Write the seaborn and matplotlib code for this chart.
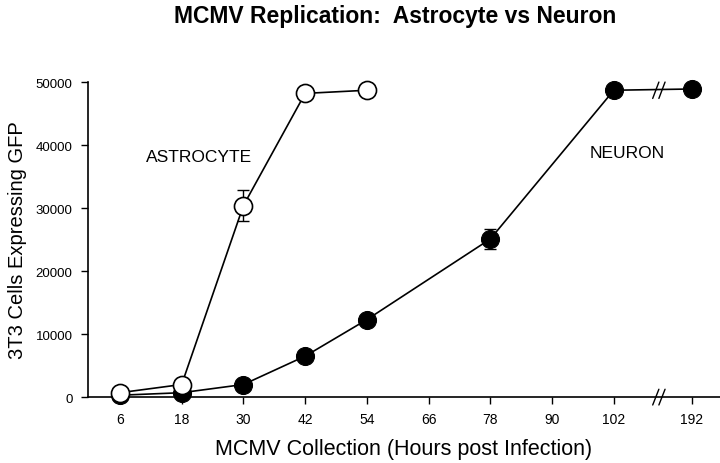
import numpy as np
import pandas as pd
import matplotlib
matplotlib.use('Agg')
import matplotlib.pyplot as plt
import seaborn as sns

# hours post infection (axis is broken between 102 and 192)
hours = [6, 18, 30, 42, 54, 66, 78, 90, 102, 192]

astro_hours = [6, 18, 30, 42, 54]
astro_gfp = [700, 2000, 30400, 48200, 48700]
astro_err = [0, 0, 2500, 0, 0]

neuron_hours = [6, 18, 30, 42, 54, 78, 102, 192]
neuron_gfp = [300, 700, 2000, 6500, 12300, 25100, 48700, 48900]
neuron_err = [0, 0, 0, 0, 0, 1650, 0, 0]

BREAK_GAP = 1.26  # spacing (in tick steps) from 102 to 192


def hpos(h):
    # position on the broken axis
    h = np.asarray(h, dtype=float)
    return np.where(h <= 102, (h - 6) / 12, 8 + BREAK_GAP)


df_a = pd.DataFrame({'pos': hpos(astro_hours), 'gfp': astro_gfp, 'err': astro_err})
df_n = pd.DataFrame({'pos': hpos(neuron_hours), 'gfp': neuron_gfp, 'err': neuron_err})

sns.set_style('ticks')
plt.rcParams['font.family'] = ['Liberation Sans', 'DejaVu Sans']
plt.rcParams['text.color'] = 'black'
plt.rcParams['axes.labelcolor'] = 'black'
plt.rcParams['xtick.color'] = 'black'
plt.rcParams['ytick.color'] = 'black'

fig = plt.figure(figsize=(7.2, 4.64), dpi=100)
ax = fig.add_axes([0.122, 0.142, 0.878, 0.679])

# neuron line (filled circles)
ax.errorbar(df_n['pos'], df_n['gfp'], yerr=np.where(df_n['err'] > 0, df_n['err'], np.nan),
            fmt='none', ecolor='black', elinewidth=1, capsize=4, capthick=1, zorder=2, clip_on=False)
sns.lineplot(data=df_n, x='pos', y='gfp', ax=ax, color='black', linewidth=1.2,
             marker='o', markersize=13, markerfacecolor='black', markeredgecolor='black',
             zorder=3, clip_on=False)

# astrocyte line (open circles)
ax.errorbar(df_a['pos'], df_a['gfp'], yerr=np.where(df_a['err'] > 0, df_a['err'], np.nan),
            fmt='none', ecolor='black', elinewidth=1, capsize=4, capthick=1, zorder=4, clip_on=False)
sns.lineplot(data=df_a, x='pos', y='gfp', ax=ax, color='black', linewidth=1.2,
             marker='o', markersize=13, markerfacecolor='white', markeredgecolor='black',
             markeredgewidth=1.2, zorder=5, clip_on=False)

ax.set_xlim(-0.52, 9.72)
ax.set_ylim(0, 50000)
ax.set_xticks(hpos(hours))
ax.set_xticklabels([str(h) for h in hours], fontsize=10)
ax.set_yticks(range(0, 50001, 10000))
ax.set_yticklabels([str(v) for v in range(0, 50001, 10000)], fontsize=9.5)
ax.tick_params(axis='both', length=5, width=1, color='black', labelcolor='black', pad=6)
sns.despine(ax=ax)
for s in ['left', 'bottom']:
    ax.spines[s].set_linewidth(1.2)
    ax.spines[s].set_color('black')

ax.set_xlabel('MCMV Collection (Hours post Infection)', fontsize=15.5, labelpad=8, color='black')
ax.set_ylabel('3T3 Cells Expressing GFP', fontsize=14.5, labelpad=6, color='black')
fig.text(395 / 720, 1 - 16 / 464, 'MCMV Replication:  Astrocyte vs Neuron', fontsize=16.5,
         fontweight='bold', ha='center', va='center', color='black')

ax.annotate('ASTROCYTE', xy=(199 / 720, 1 - 158 / 464), xycoords='figure fraction',
            fontsize=12.5, ha='center', va='center', color='black')
ax.annotate('NEURON', xy=(627 / 720, 1 - 154 / 464), xycoords='figure fraction',
            fontsize=12.5, ha='center', va='center', color='black')

# axis-break marks
bx = 8 + 0.73
trans = ax.get_xaxis_transform()
for dx in (-0.05, 0.05):
    ax.plot([bx + dx - 0.05, bx + dx + 0.05], [-0.025, 0.025], transform=trans,
            color='black', lw=1, clip_on=False, zorder=6)
    ax.plot([bx + dx - 0.05, bx + dx + 0.05], [48700 - 1300, 48700 + 1300],
            color='black', lw=1, clip_on=False, zorder=6)

fig.savefig('out.png', dpi=100)
